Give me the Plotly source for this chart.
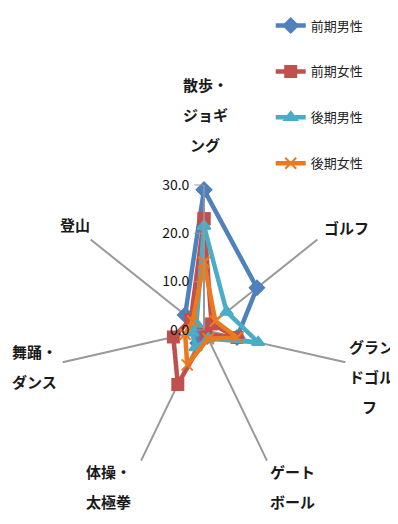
"""Radar chart: participation rate by activity, early/late elderly by sex."""

import plotly.graph_objects as go

# Activities (clockwise from top)
categories = ["散歩・ジョギング", "ゴルフ", "グランドゴルフ", "ゲートボール",
              "体操・太極拳", "舞踊・ダンス", "登山"]
# How each activity name is broken into lines on the chart
category_lines = [
    ["散歩・", "ジョギ", "ング"], ["ゴルフ"], ["グラン", "ドゴル", "フ"],
    ["ゲート", "ボール"], ["体操・", "太極拳"], ["舞踊・", "ダンス"], ["登山"],
]

# Values (%)
early_male = [29.0, 14.0, 7.0, 1.5, 3.0, 1.5, 5.0]
early_female = [23.0, 2.0, 7.0, 1.0, 12.5, 6.5, 3.5]
late_male = [21.5, 6.0, 11.5, 2.0, 4.0, 2.5, 2.0]
late_female = [14.0, 3.0, 7.0, 2.0, 8.0, 4.0, 3.0]

series_names = ["前期男性", "前期女性", "後期男性", "後期女性"]
radial_ticks = [0, 10, 20, 30]
radial_labels = ["0.0", "10.0", "20.0", "30.0"]

colors = ["#4F81BD", "#C0504D", "#4BACC6", "#EC7A1C"]
symbols = ["diamond", "square", "triangle-up", "x-thin"]

# the page body adds an 8px margin; size the figure so nothing scrolls
OFF = 8
W, H = 398 - OFF, 524 - 2 * OFF

# label placement in screen pixels: (x, y of first line, anchor)
label_pos = [
    (205, 86, "center"), (322, 228, "left"), (347, 347, "left"),
    (268, 472, "left"), (84, 472, "left"), (10, 352, "left"), (92, 225, "right"),
]
LINE_GAP = 30

fig = go.Figure()

for i, (name, vals) in enumerate(zip(series_names,
                                     [early_male, early_female, late_male, late_female])):
    fig.add_trace(go.Scatterpolar(
        r=vals + vals[:1],
        theta=categories + categories[:1],
        mode="lines+markers",
        name=name,
        legendgroup=name,
        line=dict(color=colors[i], width=4.5),
        marker=dict(symbol=symbols[i], size=11, color=colors[i],
                    line=dict(color=colors[i], width=2)),
    ))

# category labels, one annotation per line so the spacing matches the original
for lines, (px, py, anchor) in zip(category_lines, label_pos):
    for j, txt in enumerate(lines):
        xa, x = anchor, px
        # lone last line of the right-hand block ("フ") is centred under it
        if anchor == "left" and len(lines) == 3 and j == 2:
            xa, x = "center", px + 22
        fig.add_annotation(
            x=(x - OFF) / W, y=1 - (py + j * LINE_GAP - OFF - 1) / H,
            xref="paper", yref="paper",
            text=f"<b>{txt}</b>", showarrow=False,
            xanchor=xa, yanchor="middle",
            font=dict(size=15, color="#1a1a1a"),
        )

fig.update_layout(
    width=W,
    height=H,
    margin=dict(l=0, r=0, t=0, b=0),
    paper_bgcolor="white",
    font=dict(family="Noto Sans CJK JP", size=14, color="#222"),
    polar=dict(
        domain=dict(x=[0.1308, 0.8744], y=[0.0807, 0.6516]),
        bgcolor="white",
        angularaxis=dict(
            direction="clockwise",
            rotation=90,
            showgrid=True,
            gridcolor="#999",
            gridwidth=1.5,
            showline=False,
            ticks="",
            showticklabels=False,
        ),
        radialaxis=dict(
            range=[0, 30],
            angle=90,
            tickangle=90,
            side="counterclockwise",
            tickvals=radial_ticks,
            ticktext=radial_labels,
            showgrid=False,
            showline=True,
            linecolor="#999",
            linewidth=1.5,
            ticks="outside",
            ticklen=9,
            tickcolor="#999",
            tickfont=dict(size=14, color="#111"),
        ),
    ),
    legend=dict(
        x=0.6736, y=0.995, xanchor="left", yanchor="top",
        tracegroupgap=26,
        font=dict(size=13, color="#222"),
        bgcolor="rgba(0,0,0,0)",
    ),
    showlegend=True,
)

fig.write_html("out.html")
